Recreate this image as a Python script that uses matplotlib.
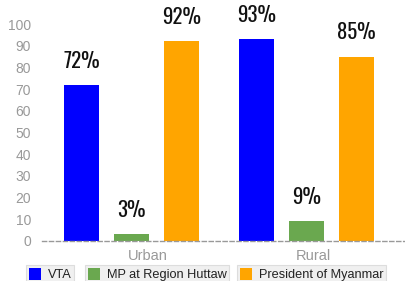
import numpy as np
import matplotlib.pyplot as plt
from matplotlib.patches import Patch

groups = ["Urban", "Rural"]
series = ["VTA", "MP at Region Huttaw", "President of Myanmar"]
values = {
    "VTA": [72, 93],
    "MP at Region Huttaw": [3, 9],
    "President of Myanmar": [92, 85],
}
colors = ["#0000ff", "#6aa84f", "#ffa500"]
yticks = [0, 10, 20, 30, 40, 50, 60, 70, 80, 90, 100]

W, H = 406, 281
fig = plt.figure(figsize=(W / 100, H / 100), dpi=100)
ax = fig.add_axes([42 / W, 40 / H, 364 / W, 217 / H])

x = np.arange(len(groups))
width = 0.2
offsets = [-0.2857, 0, 0.2857]

for name, color, off in zip(series, colors, offsets):
    vals = values[name]
    ax.bar(x + off, vals, width, color=color, zorder=2)
    for xi, v in zip(x, vals):
        ax.text(xi + off, v + 6.5, f"{v}%", ha="center", va="bottom",
                fontsize=15, fontweight=500, family=["Oswald", "DejaVu Sans"],
                color="#111111", clip_on=False)

ax.set_xlim(-0.511, 1.569)
ax.set_ylim(0, 100)
ax.set_yticks(yticks)
ax.set_yticklabels([str(t) for t in yticks], color="#999999", fontsize=10,
                   family="Liberation Sans")
# category labels sit slightly off the group centres in the original
ax.set_xticks(x + np.array([0.095, 0.04]))
ax.set_xticklabels(groups, color="#999999", fontsize=10.5, family="Liberation Sans")
ax.tick_params(length=0, pad=6)
ax.tick_params(axis="y", pad=8)

for s in ["top", "right", "left"]:
    ax.spines[s].set_visible(False)
ax.spines["bottom"].set_linestyle((0, (3, 2)))
ax.spines["bottom"].set_color("#999999")
ax.spines["bottom"].set_linewidth(1)

# one boxed legend per series
lefts = [26, 85, 237]
for name, color, left in zip(series, colors, lefts):
    leg = fig.legend(handles=[Patch(facecolor=color, label=name)],
                     loc="upper left", bbox_to_anchor=(left / W, 1 - 265 / H),
                     frameon=True, fancybox=False, facecolor="#f0f0f0",
                     edgecolor="#dddddd", framealpha=1,
                     prop={"family": "Liberation Sans", "size": 9.2},
                     handlelength=1.0, handleheight=1.1, handletextpad=0.5,
                     borderpad=0.2, borderaxespad=0)
    leg.get_frame().set_linewidth(0.8)
    for t in leg.get_texts():
        t.set_color("#222222")

plt.savefig("out.png", dpi=100)
